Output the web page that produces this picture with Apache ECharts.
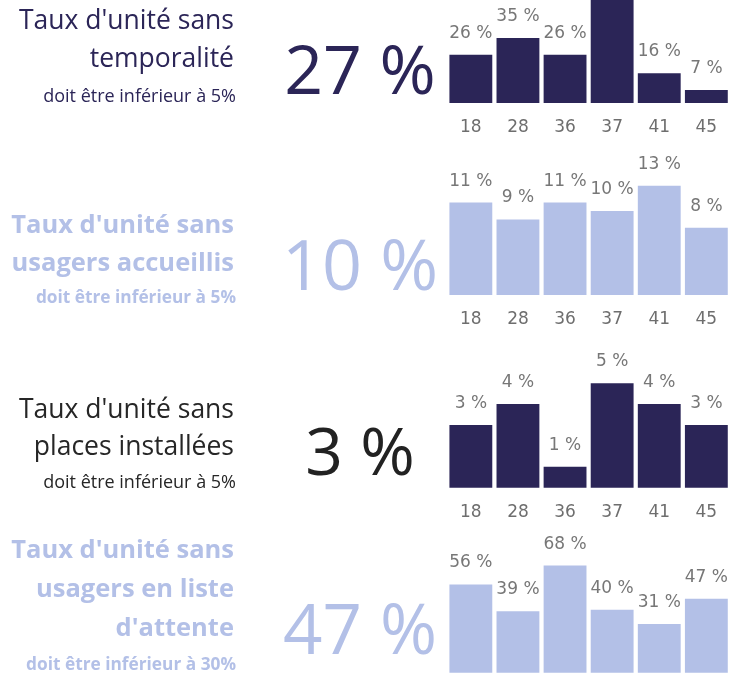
<!DOCTYPE html>
<html>
<head>
<meta charset="utf-8">
<script src="https://cdn.jsdelivr.net/npm/echarts@6/dist/echarts.min.js"></script>
<style>
  html, body { margin: 0; padding: 0; background: #ffffff; }
  #chart { width: 734px; height: 676px; }
</style>
</head>
<body>
<div id="chart"></div>
<script>
// Département codes shown under every bar
const categories = ['18', '28', '36', '37', '41', '45'];

// Rates per département (%)
const sansTemporalite = [26, 35, 26, 58, 16, 7];
const sansUsagersAccueillis = [11, 9, 11, 10, 13, 8];
const sansPlacesInstallees = [3, 4, 1, 5, 4, 3];
const sansListeAttente = [56, 39, 68, 40, 31, 47];

// Regional headline rate of each indicator (%)
const headlineRates = [27, 10, 3, 47];

// Indicator labels and their targets
const titleLines = [
  ["Taux d'unité sans", "temporalité"],
  ["Taux d'unité sans", "usagers accueillis"],
  ["Taux d'unité sans", "places installées"],
  ["Taux d'unité sans", "usagers en liste", "d'attente"]
];
const targets = [
  'doit être inférieur à 5%',
  'doit être inférieur à 5%',
  'doit être inférieur à 5%',
  'doit être inférieur à 30%'
];

const NAVY = '#2b2557';
const LIGHT = '#b3c0e7';
const INK = '#262626';
const TEXT_FONT = '"Open Sans", "Noto Sans", sans-serif';
const NUM_FONT = '"DejaVu Sans", sans-serif';

// Layout of the four rows
const rows = [
  { values: sansTemporalite, bar: NAVY, text: NAVY, weight: 'normal',
    base: 103, yMax: 60, pxPerUnit: 1.86,
    titleBase: [29.3, 66.7], subBase: 101.7, bigSize: 68, bigMid: 70 },
  { values: sansUsagersAccueillis, bar: LIGHT, text: LIGHT, weight: 'bold',
    base: 295, yMax: 16, pxPerUnit: 8.4,
    titleBase: [233, 271], subBase: 303, bigSize: 70, bigMid: 265 },
  { values: sansPlacesInstallees, bar: NAVY, text: INK, weight: 'normal',
    base: 487.7, yMax: 6, pxPerUnit: 20.9,
    titleBase: [418, 455], subBase: 488, bigSize: 66, bigMid: 451.5 },
  { values: sansListeAttente, bar: LIGHT, text: LIGHT, weight: 'bold',
    base: 672.7, yMax: 80, pxPerUnit: 1.575,
    titleBase: [558, 597, 636], subBase: 670, bigSize: 69, bigMid: 629 }
];

const GRID_LEFT = 447.3;
const GRID_WIDTH = 282.6;
const TITLE_RIGHT = 234;
const TITLE_SIZE = { normal: 26.5, bold: 25.5 };
const SUB_SIZE = { normal: 18, bold: 17.3 };

const grid = [], xAxis = [], yAxis = [], series = [], graphic = [];

rows.forEach((r, i) => {
  const h = r.yMax * r.pxPerUnit;
  grid.push({
    left: GRID_LEFT, width: GRID_WIDTH, top: r.base - h, height: h,
    outerBoundsMode: 'none', containLabel: false
  });
  xAxis.push({
    type: 'category', gridIndex: i, data: categories,
    axisLine: { show: false }, axisTick: { show: false },
    axisLabel: { color: '#6e6e6e', fontFamily: NUM_FONT, fontSize: 17, margin: 16 }
  });
  yAxis.push({
    type: 'value', gridIndex: i, min: 0, max: r.yMax, show: false,
    splitLine: { show: false }
  });
  series.push({
    type: 'bar', xAxisIndex: i, yAxisIndex: i, data: r.values,
    barCategoryGap: '9%', clip: false,
    itemStyle: { color: r.bar },
    label: {
      show: true, position: 'top', distance: 13,
      formatter: '{c} %', color: '#777777',
      fontFamily: NUM_FONT, fontSize: 17
    },
    emphasis: { disabled: true },
    animation: false
  });

  // Indicator title, right-aligned
  const titleSize = TITLE_SIZE[r.weight];
  titleLines[i].forEach((line, k) => {
    graphic.push({
      type: 'text', x: TITLE_RIGHT, y: r.titleBase[k] - 0.285 * titleSize,
      style: {
        text: line, fill: r.text, fontFamily: TEXT_FONT,
        fontWeight: r.weight, fontSize: titleSize,
        align: 'right', verticalAlign: 'middle'
      }
    });
  });
  const subSize = SUB_SIZE[r.weight];
  graphic.push({
    type: 'text', x: TITLE_RIGHT + 2, y: r.subBase - 0.285 * subSize,
    style: {
      text: targets[i], fill: r.text, fontFamily: TEXT_FONT,
      fontWeight: r.weight, fontSize: subSize,
      align: 'right', verticalAlign: 'middle'
    }
  });

  // Headline rate
  graphic.push({
    type: 'text', x: 360, y: r.bigMid + 0.072 * r.bigSize,
    style: {
      text: headlineRates[i] + ' %', fill: r.text === INK ? '#222222' : r.text,
      fontFamily: TEXT_FONT, fontSize: r.bigSize,
      align: 'center', verticalAlign: 'middle'
    }
  });
});

const chart = echarts.init(document.getElementById('chart'), null, { renderer: 'canvas' });
chart.setOption({
  animation: false,
  backgroundColor: '#ffffff',
  grid, xAxis, yAxis, series, graphic
});
</script>
</body>
</html>
